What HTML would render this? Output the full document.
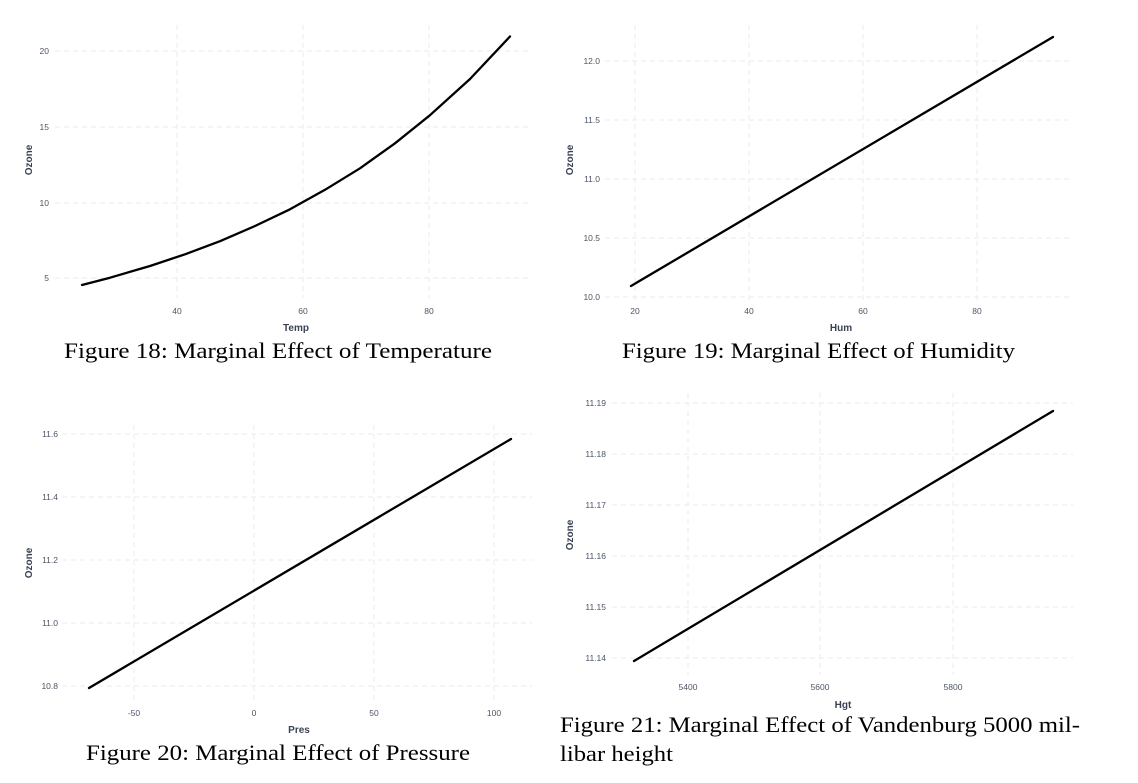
<!DOCTYPE html>
<html><head><meta charset="utf-8"><style>
html,body{margin:0;padding:0;background:#fff;}
svg{display:block;}
.g{stroke:#ebebeb;stroke-width:1;stroke-dasharray:5,4;fill:none}
.t{font-family:"Liberation Sans",sans-serif;font-size:8.5px;fill:#4d5566}
.a{font-family:"Liberation Sans",sans-serif;font-size:10px;font-weight:bold;fill:#3a4252}
.c{font-family:"Liberation Serif",serif;font-size:22px;fill:#000}
.l{stroke:#000;stroke-width:2.3;fill:none;stroke-linejoin:round;stroke-linecap:round}
</style></head><body>
<svg width="1138" height="783" viewBox="0 0 1138 783" xmlns="http://www.w3.org/2000/svg">
<!-- Panel 1 -->
<g>
<line class="g" x1="55" y1="51" x2="532" y2="51"/><line class="g" x1="55" y1="127" x2="532" y2="127"/>
<line class="g" x1="55" y1="203" x2="532" y2="203"/><line class="g" x1="55" y1="278" x2="532" y2="278"/>
<line class="g" x1="177" y1="25" x2="177" y2="298"/><line class="g" x1="303" y1="25" x2="303" y2="298"/><line class="g" x1="429" y1="25" x2="429" y2="298"/>
<text class="t" x="49" y="54" text-anchor="end">20</text><text class="t" x="49" y="130" text-anchor="end">15</text>
<text class="t" x="49" y="206" text-anchor="end">10</text><text class="t" x="49" y="281" text-anchor="end">5</text>
<text class="t" x="177" y="314" text-anchor="middle">40</text><text class="t" x="303" y="314" text-anchor="middle">60</text><text class="t" x="429" y="314" text-anchor="middle">80</text>
<text class="a" x="296" y="331" text-anchor="middle">Temp</text>
<text class="a" transform="translate(32,160) rotate(-90)" text-anchor="middle">Ozone</text>
<polyline class="l" points="82,285 110,277.7 150,266 185,254.3 220,241.2 255,226 290,209.3 325,189.8 360,168.3 395,143.3 430,115.2 470,79 510,36.5"/>
<text class="c" x="64" y="358" textLength="428" lengthAdjust="spacingAndGlyphs">Figure 18: Marginal Effect of Temperature</text>
</g>
<!-- Panel 2 -->
<g>
<line class="g" x1="605" y1="61" x2="1073" y2="61"/><line class="g" x1="605" y1="120" x2="1073" y2="120"/>
<line class="g" x1="605" y1="179" x2="1073" y2="179"/><line class="g" x1="605" y1="238" x2="1073" y2="238"/><line class="g" x1="605" y1="297" x2="1073" y2="297"/>
<line class="g" x1="635" y1="25" x2="635" y2="300"/><line class="g" x1="749" y1="25" x2="749" y2="300"/><line class="g" x1="863" y1="25" x2="863" y2="300"/><line class="g" x1="977" y1="25" x2="977" y2="300"/>
<text class="t" x="600" y="64" text-anchor="end">12.0</text><text class="t" x="600" y="123" text-anchor="end">11.5</text>
<text class="t" x="600" y="182" text-anchor="end">11.0</text><text class="t" x="600" y="241" text-anchor="end">10.5</text><text class="t" x="600" y="300" text-anchor="end">10.0</text>
<text class="t" x="635" y="314" text-anchor="middle">20</text><text class="t" x="749" y="314" text-anchor="middle">40</text><text class="t" x="863" y="314" text-anchor="middle">60</text><text class="t" x="977" y="314" text-anchor="middle">80</text>
<text class="a" x="841" y="331" text-anchor="middle">Hum</text>
<text class="a" transform="translate(573,160) rotate(-90)" text-anchor="middle">Ozone</text>
<line class="l" x1="631" y1="286" x2="1053" y2="37"/>
<text class="c" x="622" y="358" textLength="393" lengthAdjust="spacingAndGlyphs">Figure 19: Marginal Effect of Humidity</text>
</g>
<!-- Panel 3 -->
<g>
<line class="g" x1="62" y1="434" x2="532" y2="434"/><line class="g" x1="62" y1="497" x2="532" y2="497"/>
<line class="g" x1="62" y1="560" x2="532" y2="560"/><line class="g" x1="62" y1="623" x2="532" y2="623"/><line class="g" x1="62" y1="686" x2="532" y2="686"/>
<line class="g" x1="134" y1="425" x2="134" y2="700"/><line class="g" x1="254" y1="425" x2="254" y2="700"/><line class="g" x1="374" y1="425" x2="374" y2="700"/><line class="g" x1="494" y1="425" x2="494" y2="700"/>
<text class="t" x="58" y="437" text-anchor="end">11.6</text><text class="t" x="58" y="500" text-anchor="end">11.4</text>
<text class="t" x="58" y="563" text-anchor="end">11.2</text><text class="t" x="58" y="626" text-anchor="end">11.0</text><text class="t" x="58" y="689" text-anchor="end">10.8</text>
<text class="t" x="134" y="716" text-anchor="middle">-50</text><text class="t" x="254" y="716" text-anchor="middle">0</text><text class="t" x="374" y="716" text-anchor="middle">50</text><text class="t" x="494" y="716" text-anchor="middle">100</text>
<text class="a" x="299" y="733" text-anchor="middle">Pres</text>
<text class="a" transform="translate(32,563) rotate(-90)" text-anchor="middle">Ozone</text>
<line class="l" x1="89" y1="688" x2="511" y2="439"/>
<text class="c" x="86" y="760" textLength="384" lengthAdjust="spacingAndGlyphs">Figure 20: Marginal Effect of Pressure</text>
</g>
<!-- Panel 4 -->
<g>
<line class="g" x1="612" y1="403" x2="1073" y2="403"/><line class="g" x1="612" y1="454" x2="1073" y2="454"/>
<line class="g" x1="612" y1="505" x2="1073" y2="505"/><line class="g" x1="612" y1="556" x2="1073" y2="556"/>
<line class="g" x1="612" y1="607" x2="1073" y2="607"/><line class="g" x1="612" y1="658" x2="1073" y2="658"/>
<line class="g" x1="688" y1="393" x2="688" y2="675"/><line class="g" x1="820" y1="393" x2="820" y2="675"/><line class="g" x1="953" y1="393" x2="953" y2="675"/>
<text class="t" x="606" y="406" text-anchor="end">11.19</text><text class="t" x="606" y="457" text-anchor="end">11.18</text>
<text class="t" x="606" y="508" text-anchor="end">11.17</text><text class="t" x="606" y="559" text-anchor="end">11.16</text>
<text class="t" x="606" y="610" text-anchor="end">11.15</text><text class="t" x="606" y="661" text-anchor="end">11.14</text>
<text class="t" x="688" y="690" text-anchor="middle">5400</text><text class="t" x="820" y="690" text-anchor="middle">5600</text><text class="t" x="953" y="690" text-anchor="middle">5800</text>
<text class="a" x="843" y="708" text-anchor="middle">Hgt</text>
<text class="a" transform="translate(573,535) rotate(-90)" text-anchor="middle">Ozone</text>
<line class="l" x1="634" y1="661" x2="1053" y2="411"/>
<text class="c" x="560" y="732" textLength="520" lengthAdjust="spacingAndGlyphs">Figure 21: Marginal Effect of Vandenburg 5000 mil-</text>
<text class="c" x="560" y="761" textLength="113" lengthAdjust="spacingAndGlyphs">libar height</text>
</g>
</svg>
</body></html>
